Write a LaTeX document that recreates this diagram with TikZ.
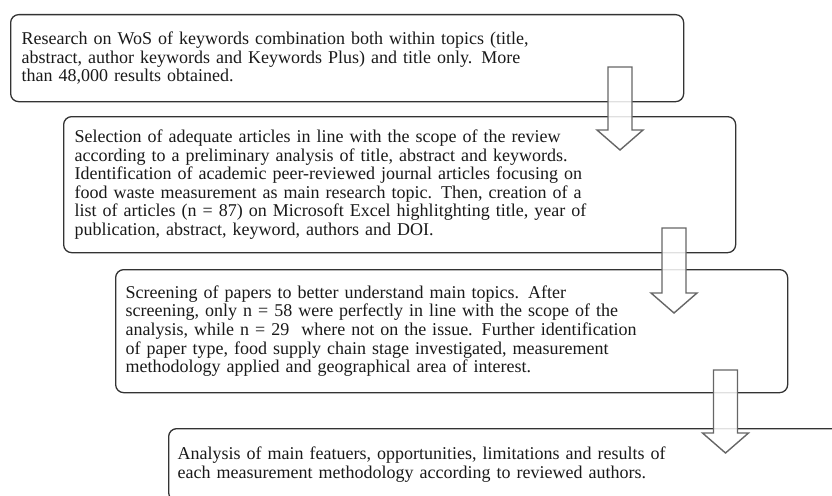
\documentclass[tikz,border=0pt]{standalone}
\usepackage{fontspec}
\setmainfont{Liberation Serif}
\tikzset{
  stagebox/.style={draw=black!80, line width=1.3pt, rounded corners=8pt,
    anchor=north west, align=left, inner ysep=0pt,
    font=\fontsize{18}{18.6}\selectfont, text=black!90},
  blockarrow/.style={draw=black!60, line width=1.4pt, fill=white,
    fill opacity=0.85, line join=miter}
}
\newcommand\blockarr[3]{% centre x, top y, tip y
  \draw[blockarrow] (#1-12,#2) -- (#1+12,#2) -- (#1+12,#3-20) -- (#1+23,#3-20)
    -- (#1,#3) -- (#1-23,#3-20) -- (#1-12,#3-20) -- cycle;}
\begin{document}
\begin{tikzpicture}[x=1pt,y=-1pt]
\useasboundingbox (0,0) rectangle (832,495);
\clip (0,0) rectangle (832,495);
\node[stagebox, inner xsep=11pt, minimum width=673pt, minimum height=87pt, text width=651pt] (b1) at (10,14)
 {Research on WoS of keywords combination both within topics (title,\\
  abstract, author keywords and Keywords Plus) and title only. More\\
  than 48,000 results obtained.};
\node[stagebox, inner xsep=11pt, minimum width=672pt, minimum height=136pt, text width=650pt] (b2) at (63,116)
 {Selection of adequate articles in line with the scope of the review\\
  according to a preliminary analysis of title, abstract and keywords.\\
  Identification of academic peer-reviewed journal articles focusing on\\
  food waste measurement as main research topic. Then, creation of a\\
  list of articles (n = 87) on Microsoft Excel highlitghting title, year of\\
  publication, abstract, keyword, authors and DOI.};
\node[stagebox, inner xsep=10pt, minimum width=672pt, minimum height=123pt, text width=652pt] (b3) at (115,269)
 {Screening of papers to better understand main topics. After\\
  screening, only n = 58 were perfectly in line with the scope of the\\
  analysis, while n = 29\ \ where not on the issue. Further identification\\
  of paper type, food supply chain stage investigated, measurement\\
  methodology applied and geographical area of interest.};
\node[stagebox, inner xsep=9pt, minimum width=672pt, minimum height=72pt, text width=654pt] (b4) at (168,428)
 {Analysis of main featuers, opportunities, limitations and results of\\
  each measurement methodology according to reviewed authors.};
\blockarr{620}{67}{150}
\blockarr{674}{228}{313}
\blockarr{725.5}{370}{453}
\end{tikzpicture}
\end{document}
